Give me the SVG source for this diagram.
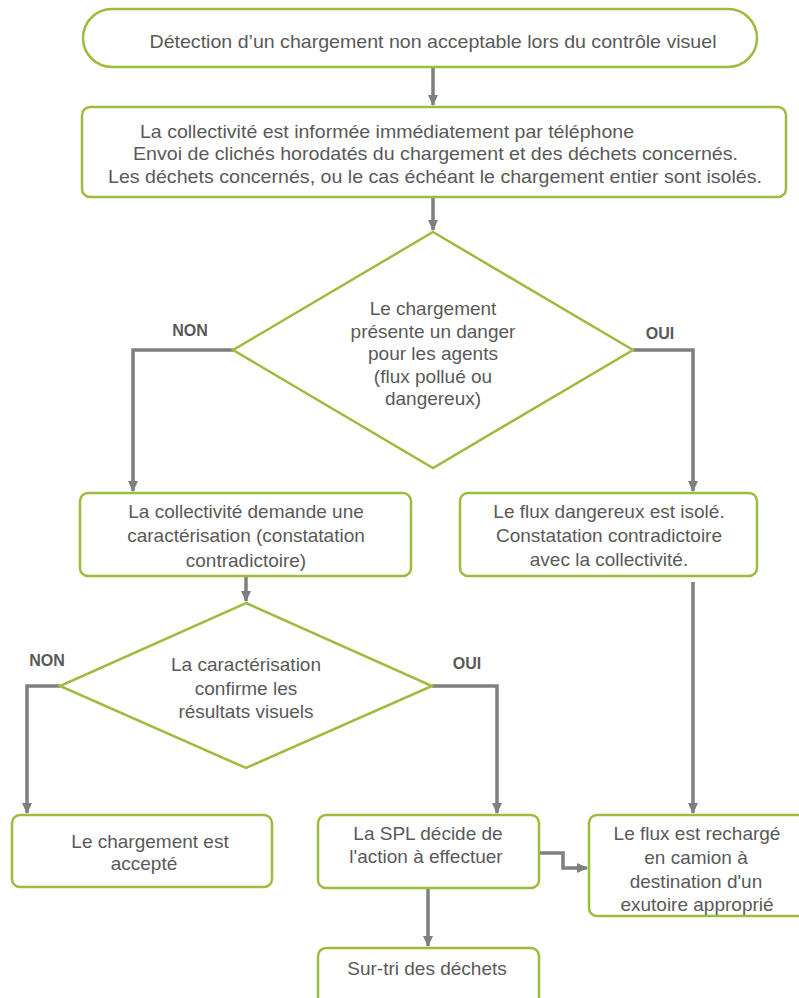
<svg xmlns="http://www.w3.org/2000/svg" width="799" height="998" viewBox="0 0 799 998">
<style>
.n{fill:#ffffff;stroke:#9dbb3d;stroke-width:2.5}
.t{font-family:"Liberation Sans",Arial,sans-serif;font-size:19px;fill:#595959;text-anchor:middle}
.l{font-family:"Liberation Sans",Arial,sans-serif;font-size:16px;font-weight:bold;fill:#595959;text-anchor:middle}
.c{fill:none;stroke:#7f7f7f;stroke-width:3.5}
</style>
<defs>
<marker id="ah" markerUnits="userSpaceOnUse" markerWidth="12" markerHeight="12" viewBox="0 0 12 12" refX="10" refY="6" orient="auto">
<path d="M0,1 L11,6 L0,11 Z" fill="#7f7f7f"/>
</marker>
</defs>
<rect width="799" height="998" fill="#ffffff"/>
<g id="connectors">
<path class="c" d="M433,67 V105" marker-end="url(#ah)"/>
<path class="c" d="M433,197 V230" marker-end="url(#ah)"/>
<path class="c" d="M233,350 H133 V491" marker-end="url(#ah)"/>
<path class="c" d="M633,350 H693 V491" marker-end="url(#ah)"/>
<path class="c" d="M246,576 V601" marker-end="url(#ah)"/>
<path class="c" d="M60,686 H27 V813" marker-end="url(#ah)"/>
<path class="c" d="M432,686 H497 V813" marker-end="url(#ah)"/>
<path class="c" d="M693,582 V813" marker-end="url(#ah)"/>
<path class="c" d="M539,853 H563 V868 H587" marker-end="url(#ah)"/>
<path class="c" d="M428,888 V946" marker-end="url(#ah)"/>
</g>
<g id="start">
<rect class="n" x="83" y="9" width="674" height="58" rx="29"/>
<text class="t" x="433" y="48" textLength="567" lengthAdjust="spacingAndGlyphs">Détection d’un chargement non acceptable lors du contrôle visuel</text>
</g>
<g id="inform">
<rect class="n" x="82" y="107" width="704" height="90" rx="8"/>
<text class="t" x="387" y="138" textLength="494" lengthAdjust="spacingAndGlyphs">La collectivité est informée immédiatement par téléphone</text>
<text class="t" x="435.5" y="160" textLength="605" lengthAdjust="spacingAndGlyphs">Envoi de clichés horodatés du chargement et des déchets concernés.</text>
<text class="t" x="435" y="183" textLength="654" lengthAdjust="spacingAndGlyphs">Les déchets concernés, ou le cas échéant le chargement entier sont isolés.</text>
</g>
<g id="danger">
<polygon class="n" points="433,232 633,350 433,468 233,350"/>
<text class="t" x="433" y="315">Le chargement</text>
<text class="t" x="433" y="338">présente un danger</text>
<text class="t" x="433" y="360">pour les agents</text>
<text class="t" x="433" y="383">(flux pollué ou</text>
<text class="t" x="433" y="405">dangereux)</text>
</g>
<text class="l" x="190" y="336">NON</text>
<text class="l" x="660" y="339">OUI</text>
<g id="caracterisation">
<rect class="n" x="80" y="493" width="331" height="83" rx="8"/>
<text class="t" x="246" y="518">La collectivité demande une</text>
<text class="t" x="246" y="542">caractérisation (constatation</text>
<text class="t" x="246" y="567">contradictoire)</text>
</g>
<g id="isole">
<rect class="n" x="460" y="493" width="297" height="83" rx="8"/>
<text class="t" x="609" y="518">Le flux dangereux est isolé.</text>
<text class="t" x="609" y="542">Constatation contradictoire</text>
<text class="t" x="609" y="566">avec la collectivité.</text>
</g>
<g id="confirme">
<polygon class="n" points="246,603 432,686 246,768 60,686"/>
<text class="t" x="246" y="671">La caractérisation</text>
<text class="t" x="246" y="695">confirme les</text>
<text class="t" x="246" y="718">résultats visuels</text>
</g>
<text class="l" x="47" y="666">NON</text>
<text class="l" x="467" y="669">OUI</text>
<g id="accepte">
<rect class="n" x="12" y="815" width="260" height="72" rx="8"/>
<text class="t" x="150" y="848">Le chargement est</text>
<text class="t" x="144" y="870">accepté</text>
</g>
<g id="spl">
<rect class="n" x="318" y="815" width="221" height="73" rx="8"/>
<text class="t" x="428" y="840">La SPL décide de</text>
<text class="t" x="426" y="863">l'action à effectuer</text>
</g>
<g id="recharge">
<rect class="n" x="589" y="815" width="220" height="101" rx="8"/>
<text class="t" x="697" y="840">Le flux est rechargé</text>
<text class="t" x="696" y="864">en camion à</text>
<text class="t" x="696" y="888">destination d'un</text>
<text class="t" x="697" y="911">exutoire approprié</text>
</g>
<g id="surtri">
<rect class="n" x="318" y="948" width="221" height="62" rx="8"/>
<text class="t" x="427" y="975">Sur-tri des déchets</text>
</g>
</svg>
